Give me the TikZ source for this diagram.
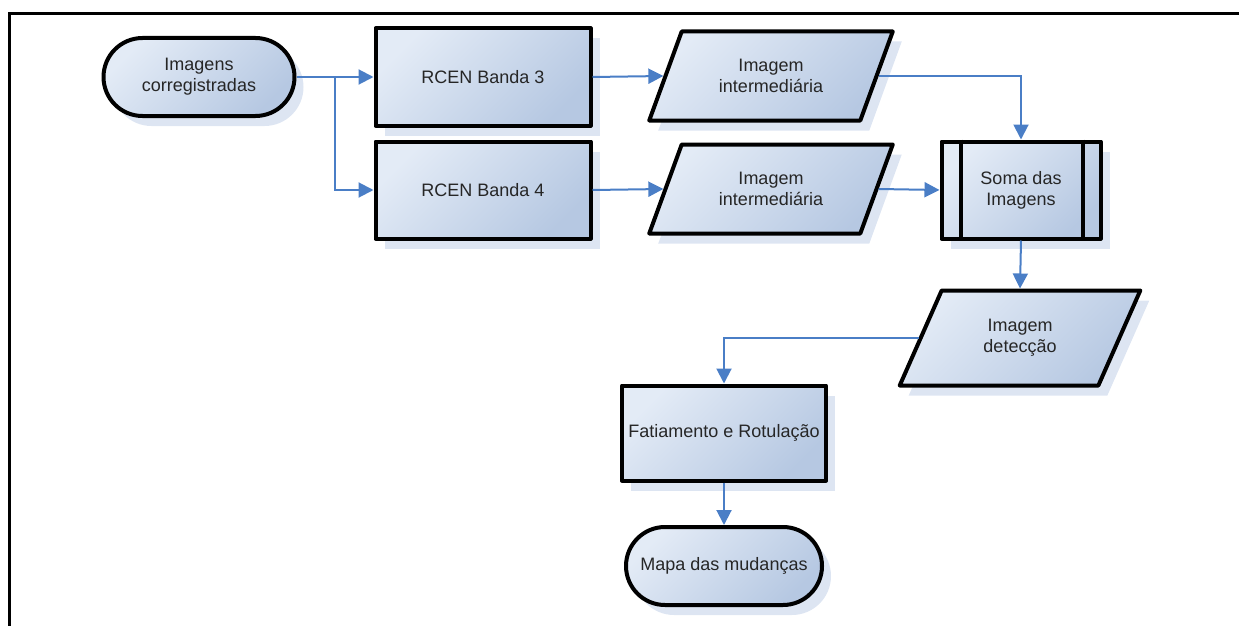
\documentclass[tikz,border=0pt]{standalone}
\usepackage{fontspec}
\setmainfont{Liberation Sans}
\usetikzlibrary{arrows.meta,shapes.geometric,shadows}
\definecolor{flowlight}{HTML}{E3EBF6}
\definecolor{flowdark}{HTML}{B6C8E2}
\definecolor{flowshadow}{HTML}{DDE5F2}
\definecolor{flowblue}{HTML}{4A7EC6}
\definecolor{flowtext}{HTML}{262626}

\begin{document}
\begin{tikzpicture}[x=1pt,y=-1pt,
  flowbase/.style={draw=black,line width=4pt,line join=round,
    top color=flowlight,bottom color=flowdark,shading angle=45,
    text=flowtext,font=\fontsize{18}{21}\selectfont,align=center,inner sep=2pt,
    drop shadow={shadow xshift=9pt,shadow yshift=-10pt,fill=flowshadow,opacity=1}},
  procbox/.style={flowbase,rectangle,minimum width=215pt,minimum height=97pt},
  termbox/.style={flowbase,rectangle,rounded corners=39pt,minimum height=78pt},
  databox/.style={flowbase,trapezium,trapezium stretches=true,
    trapezium left angle=62.4,trapezium right angle=117.6,
    minimum width=244pt,minimum height=89pt},
  flowarrow/.style={draw=flowblue,line width=2pt,-{Triangle[length=15pt,width=15pt]}}]

  \useasboundingbox (0,0) rectangle (1239,626);

  % ---- Frame -------------------------------------------------
  \draw[line width=3pt] (9,626) -- (9,14) -- (1239,14);

  % ---- Input -------------------------------------------------
  \node[termbox,minimum width=191pt] (imgs) at (199,77) {Imagens\\corregistradas};

  % ---- RCEN per band ----------------------------------------
  \node[procbox] (rcen3) at (483,77)  {RCEN Banda 3};
  \node[procbox] (rcen4) at (483,190) {RCEN Banda 4};

  % ---- Intermediate images ----------------------------------
  \node[databox] (inter3) at (771,76)  {Imagem\\intermediária};
  \node[databox] (inter4) at (771,189) {Imagem\\intermediária};

  % ---- Sum (predefined process) -----------------------------
  \node[flowbase,rectangle,minimum width=159pt,minimum height=97pt] (soma)
    at (1021,190) {Soma das\\Imagens};
  \draw[line width=4pt] ([xshift=21pt]soma.north west) -- ([xshift=21pt]soma.south west);
  \draw[line width=4pt] ([xshift=-20pt]soma.north east) -- ([xshift=-20pt]soma.south east);

  % ---- Detection image --------------------------------------
  \node[databox,trapezium left angle=63.4,trapezium right angle=116.6,
    minimum width=241pt,minimum height=95pt] (detec) at (1020,338) {Imagem\\detecção};

  % ---- Slicing and labelling --------------------------------
  \node[procbox,minimum width=204pt,minimum height=95pt] (fatia) at (724,433)
    {Fatiamento e Rotulação};

  % ---- Output ------------------------------------------------
  \node[termbox,minimum width=196pt] (mapa) at (724,566) {Mapa das mudanças};

  % ---- Connectors -------------------------------------------
  \coordinate (split) at (335,77);
  \draw[flowarrow] (imgs.east) -- (rcen3.west);
  \draw[flowarrow] (split) |- (rcen4.west);
  \draw[flowarrow] (rcen3.east) -- (inter3.left side);
  \draw[flowarrow] (rcen4.east) -- (inter4.left side);
  \draw[flowarrow] (inter3.right side) -| (soma.north);
  \draw[flowarrow] (inter4.right side) -- (soma.west);
  \draw[flowarrow] (soma.south) -- (detec.north);
  \draw[flowarrow] (detec.left side) -| (fatia.north);
  \draw[flowarrow] (fatia.south) -- (mapa.north);

\end{tikzpicture}
\end{document}
